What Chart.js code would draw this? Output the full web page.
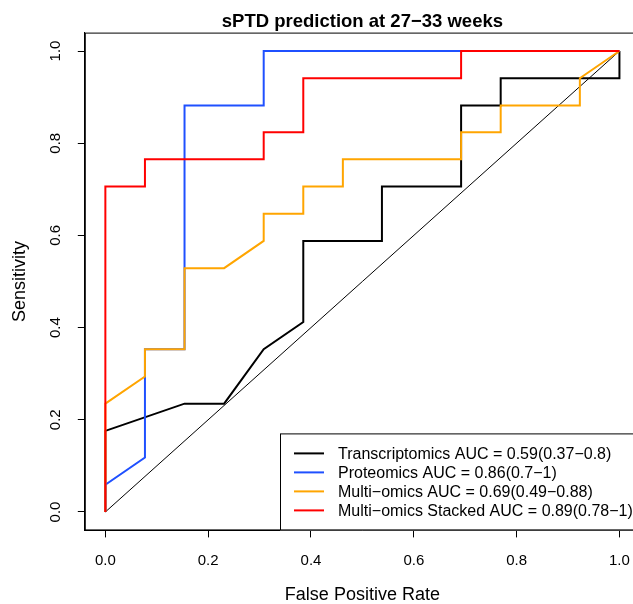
<!DOCTYPE html>
<html>
<head>
<meta charset="utf-8">
<script src="https://cdn.jsdelivr.net/npm/chart.js@4"></script>
<style>
  html, body { margin: 0; padding: 0; background: #fff; }
  #wrap { width: 633px; height: 604px; overflow: hidden; position: relative; }
  canvas { display: block; }
</style>
</head>
<body>
<div id="wrap"><canvas id="rocChart" width="660" height="604" style="width:660px;height:604px"></canvas></div>
<script>
'use strict';

// ROC curves (false positive rate / sensitivity)
let transFpr = [0, 0, 0.154, 0.231, 0.308, 0.385, 0.385, 0.538, 0.538, 0.692, 0.692, 0.769, 0.769, 1, 1];
let transTpr = [0, 0.176, 0.235, 0.235, 0.353, 0.412, 0.588, 0.588, 0.706, 0.706, 0.882, 0.882, 0.941, 0.941, 1];

let protFpr = [0, 0, 0.077, 0.077, 0.154, 0.154, 0.308, 0.308, 1];
let protTpr = [0, 0.059, 0.118, 0.353, 0.353, 0.882, 0.882, 1, 1];

let multiFpr = [0, 0, 0.077, 0.077, 0.154, 0.154, 0.231, 0.308, 0.308, 0.385, 0.385, 0.462, 0.462, 0.692, 0.692, 0.769, 0.769, 0.923, 0.923, 1];
let multiTpr = [0, 0.235, 0.294, 0.353, 0.353, 0.529, 0.529, 0.588, 0.647, 0.647, 0.706, 0.706, 0.765, 0.765, 0.824, 0.824, 0.882, 0.882, 0.941, 1];

let stackFpr = [0, 0, 0.077, 0.077, 0.308, 0.308, 0.385, 0.385, 0.692, 0.692, 1];
let stackTpr = [0, 0.706, 0.706, 0.765, 0.765, 0.824, 0.824, 0.941, 0.941, 1, 1];

let chanceLine = [0, 1];

let seriesLabels = [
  'Transcriptomics AUC = 0.59(0.37\u22120.8)',
  'Proteomics AUC = 0.86(0.7\u22121)',
  'Multi\u2212omics AUC = 0.69(0.49\u22120.88)',
  'Multi\u2212omics Stacked AUC = 0.89(0.78\u22121)'
];
let seriesColors = ['#000000', '#1f50ff', '#ffa500', '#ff0000'];
let axisTicks = [0, 0.2, 0.4, 0.6, 0.8, 1.0];

const FONT = '"Liberation Sans", Arial, Helvetica, sans-serif';

function toPoints(xs, ys){
  let pts = [];
  for(let i = 0; i < xs.length; i++){
    pts.push({x: xs[i], y: ys[i]});
  }
  return pts;
}

function rocDataset(i, xs, ys){
  return {
    label: seriesLabels[i],
    data: toPoints(xs, ys),
    showLine: true,
    borderColor: seriesColors[i],
    borderWidth: 2,
    pointRadius: 0,
    tension: 0,
    order: 4 - i
  };
}

// frame, title and R-style legend box
const extrasPlugin = {
  id: 'extras',
  afterDraw(chart){
    const ctx = chart.ctx;
    const a = chart.chartArea;
    ctx.save();
    ctx.strokeStyle = '#000';
    ctx.lineWidth = 1;
    ctx.strokeRect(a.left + 0.5, a.top + 0.5, a.right - a.left - 1, a.bottom - a.top - 1);

    ctx.fillStyle = '#000';
    ctx.font = 'bold 18.5px ' + FONT;
    ctx.textAlign = 'center';
    ctx.textBaseline = 'alphabetic';
    ctx.fillText('sPTD prediction at 27\u221233 weeks', (a.left + a.right) / 2, 26.5);

    // legend, bottom right of the plot region
    let boxLeft = a.right - 360;
    let boxTop = a.bottom - 97;
    ctx.fillStyle = '#fff';
    ctx.fillRect(boxLeft, boxTop, a.right - boxLeft, a.bottom - boxTop);
    ctx.strokeStyle = '#000';
    ctx.strokeRect(boxLeft + 0.5, boxTop + 0.5, a.right - boxLeft, a.bottom - boxTop - 1);
    ctx.font = '16px ' + FONT;
    ctx.textAlign = 'left';
    ctx.textBaseline = 'middle';
    for(let i = 0; i < seriesLabels.length; i++){
      let y = a.bottom - 77 + i * 19;
      ctx.strokeStyle = seriesColors[i];
      ctx.lineWidth = 2;
      ctx.beginPath();
      ctx.moveTo(boxLeft + 14, y);
      ctx.lineTo(boxLeft + 44, y);
      ctx.stroke();
      ctx.fillStyle = '#000';
      ctx.fillText(seriesLabels[i], boxLeft + 58, y + 1);
    }
    ctx.restore();
  }
};

function fixedTicks(scale){
  scale.ticks = axisTicks.map(v => ({value: v}));
}

const ctx = document.getElementById('rocChart');

new Chart(ctx, {
  type: 'scatter',
  data: {
    datasets: [
      rocDataset(0, transFpr, transTpr),
      rocDataset(1, protFpr, protTpr),
      rocDataset(2, multiFpr, multiTpr),
      rocDataset(3, stackFpr, stackTpr),
      {
        label: 'chance',
        data: toPoints(chanceLine, chanceLine),
        showLine: true,
        borderColor: '#000',
        borderWidth: 1,
        pointRadius: 0,
        order: 10
      }
    ]
  },
  options: {
    responsive: false,
    animation: false,
    layout: {
      padding: {left: 0, right: 20, top: 32.6, bottom: 0}
    },
    plugins: {
      legend: {display: false},
      tooltip: {enabled: false}
    },
    scales: {
      x: {
        type: 'linear',
        min: -0.04,
        max: 1.04,
        afterBuildTicks: fixedTicks,
        afterFit(scale){ scale.height = 73.6; },
        grid: {drawOnChartArea: false, drawTicks: true, tickLength: 7, color: '#000', tickWidth: 1},
        border: {display: true, color: '#000', width: 1},
        ticks: {
          autoSkip: false,
          maxRotation: 0,
          padding: 14,
          color: '#000',
          font: {family: FONT, size: 15},
          callback: v => v.toFixed(1)
        },
        title: {
          display: true,
          text: 'False Positive Rate',
          color: '#000',
          font: {family: FONT, size: 18, lineHeight: 1},
          padding: {top: 0, bottom: 0.4}
        }
      },
      y: {
        type: 'linear',
        min: -0.04,
        max: 1.04,
        afterBuildTicks: fixedTicks,
        afterFit(scale){ scale.width = 84.8; },
        grid: {drawOnChartArea: false, drawTicks: true, tickLength: 7, color: '#000', tickWidth: 1},
        border: {display: true, color: '#000', width: 1},
        ticks: {
          autoSkip: false,
          minRotation: 90,
          maxRotation: 90,
          crossAlign: 'center',
          padding: 12,
          color: '#000',
          font: {family: FONT, size: 15},
          callback: v => v.toFixed(1)
        },
        title: {
          display: true,
          text: 'Sensitivity',
          color: '#000',
          font: {family: FONT, size: 18, lineHeight: 1},
          padding: {top: 11, bottom: 0}
        }
      }
    }
  },
  plugins: [extrasPlugin]
});
</script>
</body>
</html>
